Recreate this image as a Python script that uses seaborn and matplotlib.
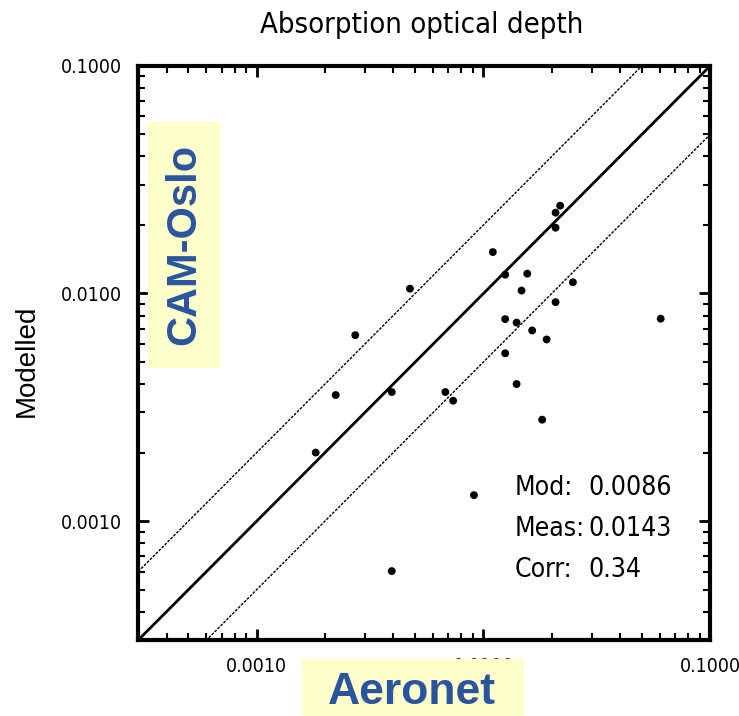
import matplotlib
matplotlib.use("Agg")
import matplotlib.pyplot as plt
import seaborn as sns
import numpy as np
import pandas as pd
from matplotlib.ticker import LogLocator, FixedLocator, NullFormatter
from matplotlib.patches import Rectangle

# ---- data ----
measured = [0.00182, 0.00223, 0.00272, 0.00394, 0.00474, 0.00394, 0.00679, 0.00735,
            0.00908, 0.0110, 0.01247, 0.01247, 0.01247, 0.0140, 0.0140, 0.01472,
            0.0156, 0.0164, 0.01815, 0.0190, 0.0208, 0.0208, 0.0218, 0.0208,
            0.0248, 0.0605]
modelled = [0.0020, 0.00358, 0.00656, 0.00369, 0.0105, 0.000603, 0.00369, 0.00338,
            0.0013, 0.0152, 0.0121, 0.00772, 0.00546, 0.0040, 0.00745, 0.0103,
            0.01222, 0.00688, 0.00279, 0.00628, 0.01945, 0.02265, 0.0243, 0.00916,
            0.0112, 0.00775]
tick_values = [0.001, 0.01, 0.1]
tick_labels = ["0.0010", "0.0100", "0.1000"]
axis_limits = [0.0003, 0.1]
factor = 2.0
stats_labels = ["Mod:", "Meas:", "Corr:"]
stats_values = ["0.0086", "0.0143", "0.34"]
title = "Absorption optical depth"
ylabel = "Modelled"
model_name = "CAM-Oslo"
obs_name = "Aeronet"

df = pd.DataFrame({"Measured": measured, "Modelled": modelled})

sns.set_style("white")
plt.rcParams["font.family"] = ["DejaVu Sans"]
plt.rcParams["font.stretch"] = "condensed"
plt.rcParams["text.color"] = "black"
plt.rcParams["xtick.color"] = "black"
plt.rcParams["ytick.color"] = "black"

fig = plt.figure(figsize=(7.39, 7.16), dpi=100)
ax = fig.add_axes([0.187, 0.106, 0.774, 0.802])
ax.set_xscale("log")
ax.set_yscale("log")
ax.set_xlim(axis_limits)
ax.set_ylim(axis_limits)

lims = np.array(axis_limits)
ax.plot(lims, lims, color="black", lw=2.0, zorder=2)
ax.plot(lims, lims * factor, color="black", lw=1.0, ls=(0, (2, 1)), zorder=2)
ax.plot(lims, lims / factor, color="black", lw=1.0, ls=(0, (2, 1)), zorder=2)

sns.scatterplot(data=df, x="Measured", y="Modelled", color="black", s=32,
                edgecolor="none", ax=ax, zorder=3, legend=False)

for s in ax.spines.values():
    s.set_linewidth(3)
    s.set_color("black")

for axis in (ax.xaxis, ax.yaxis):
    axis.set_major_locator(FixedLocator(tick_values))
    axis.set_minor_locator(LogLocator(base=10, subs=np.arange(2, 10)))
    axis.set_minor_formatter(NullFormatter())
ax.set_xticks(tick_values)
ax.set_xticklabels(tick_labels)
ax.set_yticks(tick_values)
ax.set_yticklabels(tick_labels)
ax.tick_params(which="both", direction="in", top=True, right=True, bottom=True, left=True,
               color="black")
ax.tick_params(which="major", length=8, width=2, labelsize=14, pad=12)
ax.tick_params(which="minor", length=5, width=1.5)
ax.set_xlabel("")
ax.set_ylabel("")

fig.text(0.571, 0.965, title, ha="center", va="center", fontsize=21)
fig.text(0.036, 0.496, ylabel, rotation=90, ha="center", va="center", fontsize=20,
         family=["Liberation Sans", "DejaVu Sans"], stretch="normal")

blue = "#2A559E"
yellow = "#FFFFCC"
# CAM-Oslo box
fig.patches.append(Rectangle((148 / 739, 1 - 367 / 716), 71 / 739, 245 / 716,
                             transform=fig.transFigure, color=yellow, zorder=5))
fig.text(184 / 739, 1 - 244 / 716, model_name, rotation=90, ha="center", va="center",
         fontsize=30, fontweight="bold", color=blue, zorder=6,
         family=["Liberation Sans", "DejaVu Sans"], stretch="normal")
# Aeronet box
fig.patches.append(Rectangle((302 / 739, 0), 221 / 739, 57 / 716,
                             transform=fig.transFigure, color=yellow, zorder=5))
fig.text(412 / 739, 1 - 692 / 716, obs_name, ha="center", va="center",
         fontsize=32, fontweight="bold", color=blue, zorder=6,
         family=["Liberation Sans", "DejaVu Sans"], stretch="normal")

ys = [488, 529, 570]
for lab, val, yp in zip(stats_labels, stats_values, ys):
    fig.text(515 / 739, 1 - yp / 716, lab, ha="left", va="center", fontsize=19)
    fig.text(588 / 739, 1 - yp / 716, val, ha="left", va="center", fontsize=19)

fig.savefig("out.png", dpi=100)
